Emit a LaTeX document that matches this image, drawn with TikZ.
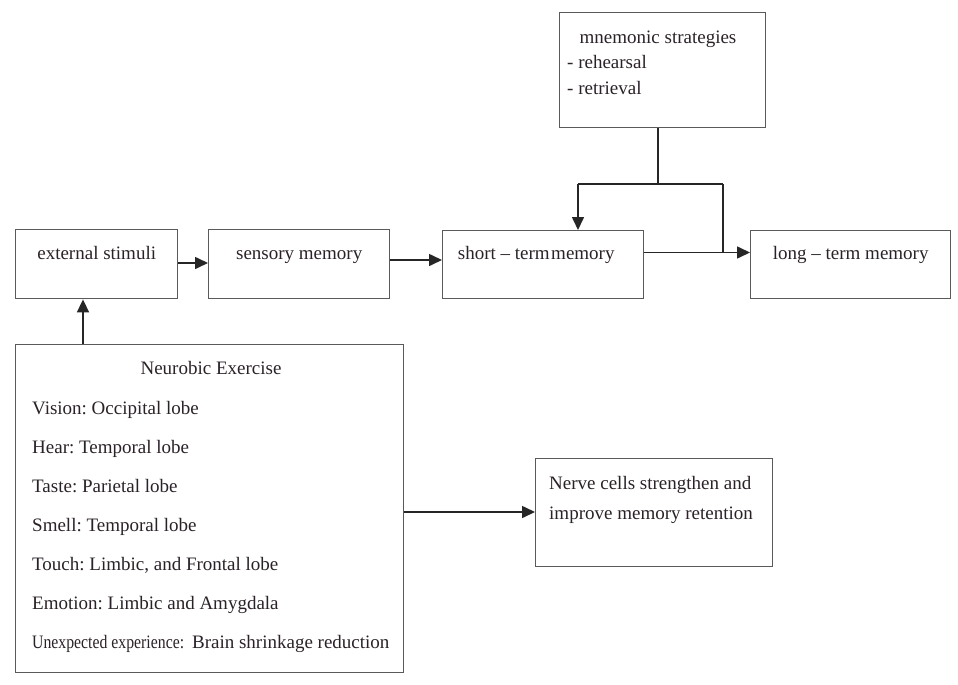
\documentclass[tikz,border=0pt]{standalone}
\usepackage{fontspec}
\usepackage{graphicx}
\setmainfont{Liberation Serif}
\usetikzlibrary{arrows.meta}
\definecolor{boxline}{HTML}{5A5A5A}
\definecolor{txt}{HTML}{2A2228}
\tikzset{
  box/.style={draw=boxline, line width=1.4pt, inner sep=0pt, anchor=north west, text=txt},
  lbl/.style={inner sep=0pt, anchor=base west, text=txt},
  conn/.style={draw=black!85, line width=1.6pt},
  arr/.style={conn, -{Triangle[length=13pt,width=12pt]}},
}
\begin{document}
\frenchspacing
\begin{tikzpicture}[x=1pt,y=-1pt, font=\fontsize{19}{23}\selectfont\frenchspacing]
\useasboundingbox (0,0) rectangle (958,685);
% boxes
\node[box, minimum width=206, minimum height=115] (mnem) at (559,12) {};
\node[box, minimum width=162, minimum height=69] (ext) at (15,229) {};
\node[box, minimum width=181, minimum height=69] (sens) at (208,229) {};
\node[box, minimum width=201, minimum height=68] (stm) at (442,230) {};
\node[box, minimum width=200, minimum height=68] (ltm) at (750,230) {};
\node[box, minimum width=388, minimum height=328] (neuro) at (15,344) {};
\node[box, minimum width=237, minimum height=108] (nerve) at (535,458) {};
% texts
\node[lbl, anchor=base] (mnemT) at (658,44) {mnemonic strategies};
\node[lbl] (mnemA) at (567,69) {- rehearsal};
\node[lbl] (mnemB) at (567,94) {- retrieval};
\node[lbl, anchor=base] (extT) at ([yshift=-30]ext.north) {external stimuli};
\node[lbl, anchor=base] (sensT) at ([yshift=-30]sens.north) {sensory memory};
\node[lbl, anchor=base] (stmT) at ([xshift=-7,yshift=-29]stm.north) {short – term\hspace{0.08em}memory};
\node[lbl, anchor=base] (ltmT) at ([yshift=-29]ltm.north) {long – term memory};
\node[lbl, anchor=base] (neuroT) at (211,374) {Neurobic Exercise};
\node[lbl] (n1) at (32,414) {Vision: Occipital lobe};
\node[lbl] (n2) at (32,453) {Hear: Temporal lobe};
\node[lbl] (n3) at (32,492) {Taste: Parietal lobe};
\node[lbl] (n4) at (32,531) {Smell: Temporal lobe};
\node[lbl] (n5) at (32,570) {Touch: Limbic, and Frontal lobe};
\node[lbl] (n6) at (32,609) {Emotion: Limbic and Amygdala};
\node[lbl] (n7) at (32,648) {\scalebox{0.83}[1]{Unexpected experience:}\hspace{8pt}Brain shrinkage reduction};
\node[lbl] (nv1) at (549,489) {Nerve cells strengthen and};
\node[lbl] (nv2) at (549,519) {improve memory retention};
% connectors
\coordinate (split) at (658,184);
\coordinate (sl) at (578,184);
\coordinate (sr) at (723,184);
\coordinate (join) at (723,252.5);
\draw[conn] (mnem.south -| split) -- (split);
\draw[conn] (sr) -- (sl);
\draw[arr] (sl) -- (sl |- stm.north);
\draw[conn] (sr) -- (join);
\draw[arr] (ext.east |- 0,263) -- (sens.west |- 0,263);
\draw[arr] (sens.east |- 0,260) -- (stm.west |- 0,260);
\draw[arr] (stm.east |- join) -- (ltm.west |- join);
\draw[arr] (neuro.north -| 83,0) -- (ext.south -| 83,0);
\draw[arr] (neuro.east |- 0,512) -- (nerve.west |- 0,512);
\end{tikzpicture}
\end{document}
